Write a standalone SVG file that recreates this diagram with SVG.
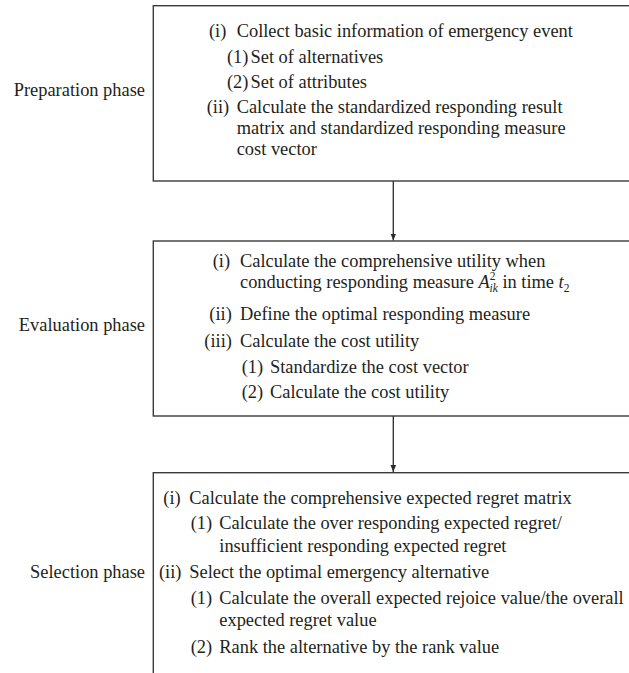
<svg xmlns="http://www.w3.org/2000/svg" width="629" height="673" viewBox="0 0 629 673">
<defs>
<style>
text{font-family:"Liberation Serif","Times New Roman",serif;font-size:18.4px;fill:#231f20}
.lbl{text-anchor:end}
.box{fill:#fff;stroke:#3a3a3a;stroke-width:1.4}
.con{stroke:#2a2a2a;stroke-width:1.3;fill:none}
.it{font-style:italic}
</style>
<marker id="ah" viewBox="0 0 10 10" refX="10" refY="5" markerWidth="7" markerHeight="7" markerUnits="userSpaceOnUse" orient="auto">
<path d="M0,1 L10,5 L0,9 Z" fill="#2a2a2a"/>
</marker>
</defs>
<rect width="629" height="673" fill="#fff"/>
<g id="connectors">
<line class="con" x1="393.3" y1="181" x2="393.3" y2="240.5" marker-end="url(#ah)"/>
<line class="con" x1="393.3" y1="416" x2="393.3" y2="472" marker-end="url(#ah)"/>
</g>
<g id="preparation">
<rect class="box" x="153.3" y="5.7" width="500" height="175.3"/>
<text class="lbl" x="145" y="96">Preparation phase</text>
<text x="209" y="36.7">(i)</text><text x="236.7" y="36.7">Collect basic information of emergency event</text>
<text x="227" y="62.7">(1)</text><text x="250.5" y="62.7">Set of alternatives</text>
<text x="227" y="87.7">(2)</text><text x="250.5" y="87.7">Set of attributes</text>
<text x="206.7" y="112.7">(ii)</text><text x="236.7" y="112.7">Calculate the standardized responding result</text>
<text x="236.7" y="134">matrix and standardized responding measure</text>
<text x="236.7" y="155">cost vector</text>
</g>
<g id="evaluation">
<rect class="box" x="153.3" y="241" width="500" height="175"/>
<text class="lbl" x="145" y="331">Evaluation phase</text>
<text x="212.7" y="267">(i)</text><text x="240" y="267">Calculate the comprehensive utility when</text>
<text x="240" y="288">conducting responding measure <tspan class="it">A</tspan><tspan font-size="11.5" dy="-8">2</tspan><tspan class="it" font-size="11.5" dx="-6" dy="12">ik</tspan><tspan dy="-4"> in time </tspan><tspan class="it">t</tspan><tspan font-size="11.5" dy="4">2</tspan></text>
<text x="209.3" y="320">(ii)</text><text x="240" y="320">Define the optimal responding measure</text>
<text x="204.3" y="346.7">(iii)</text><text x="240" y="346.7">Calculate the cost utility</text>
<text x="241.7" y="372.7">(1)</text><text x="270" y="372.7">Standardize the cost vector</text>
<text x="241.7" y="398.3">(2)</text><text x="270" y="398.3">Calculate the cost utility</text>
</g>
<g id="selection">
<rect class="box" x="153.3" y="472.7" width="500" height="260"/>
<text class="lbl" x="145" y="578">Selection phase</text>
<text x="163.3" y="504">(i)</text><text x="189.3" y="504">Calculate the comprehensive expected regret matrix</text>
<text x="190.7" y="529.3">(1)</text><text x="219.3" y="529.3">Calculate the over responding expected regret/</text>
<text x="219.3" y="551.7">insufficient responding expected regret</text>
<text x="159" y="578.3">(ii)</text><text x="189.3" y="578.3">Select the optimal emergency alternative</text>
<text x="190.7" y="604">(1)</text><text x="219.3" y="604">Calculate the overall expected rejoice value/the overall</text>
<text x="219.3" y="626">expected regret value</text>
<text x="190.7" y="652.7">(2)</text><text x="219.3" y="652.7">Rank the alternative by the rank value</text>
</g>
</svg>
